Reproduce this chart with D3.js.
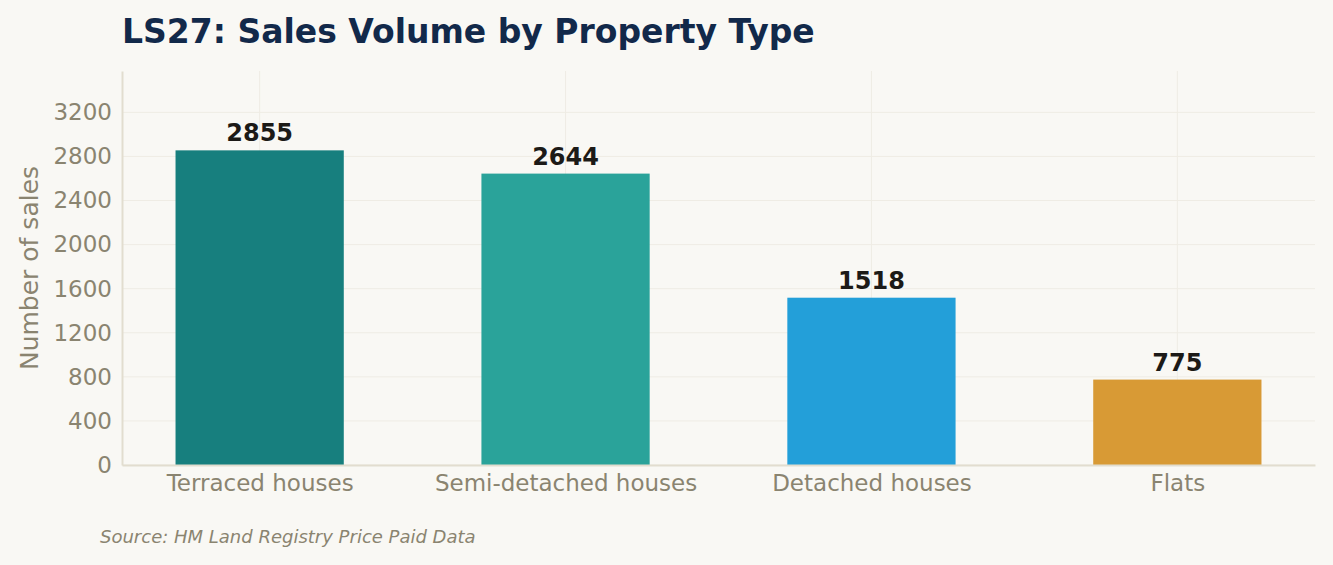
<!DOCTYPE html>
<html>
<head>
<meta charset="utf-8">
<script src="https://cdn.jsdelivr.net/npm/d3@7"></script>
<style>
  html, body { margin: 0; padding: 0; background: #f9f8f4; }
  svg { display: block; font-family: "DejaVu Sans", sans-serif; }
</style>
</head>
<body>
<div id="chart"></div>
<script>
// Dati
const categories = ["Terraced houses", "Semi-detached houses", "Detached houses", "Flats"];
const sales = [2855, 2644, 1518, 775];
const barColors = ["#177f7e", "#2aa39a", "#239fd9", "#d89a35"];
const yTicks = [0, 400, 800, 1200, 1600, 2000, 2400, 2800, 3200];

const width = 1333, height = 565;
const margin = { top: 71, right: 18, bottom: 100, left: 122 };
const innerW = width - margin.left - margin.right;
const innerH = height - margin.top - margin.bottom;

const svg = d3.select("#chart").append("svg")
    .attr("width", width)
    .attr("height", height);

svg.append("rect").attr("width", width).attr("height", height).attr("fill", "#f9f8f4");

const g = svg.append("g").attr("transform", `translate(${margin.left},${margin.top})`);

// Scala x: categorie con margine come matplotlib (-0.45 .. n-0.55)
const x = d3.scaleLinear()
    .domain([-0.45, categories.length - 0.55])
    .range([0, innerW]);
const barW = (x(1) - x(0)) * 0.55;

const y = d3.scaleLinear()
    .domain([0, 3575])
    .range([innerH, 0]);

// Griglia orizzontale
g.append("g")
    .selectAll("line")
    .data(yTicks)
    .join("line")
    .attr("x1", 0).attr("x2", innerW)
    .attr("y1", d => y(d)).attr("y2", d => y(d))
    .attr("stroke", "#efece4")
    .attr("stroke-width", 1);

// Griglia verticale
g.append("g")
    .selectAll("line")
    .data(categories)
    .join("line")
    .attr("x1", (d, i) => x(i)).attr("x2", (d, i) => x(i))
    .attr("y1", 0).attr("y2", innerH)
    .attr("stroke", "#efece4")
    .attr("stroke-width", 1);

// Barre
g.append("g")
    .selectAll("rect")
    .data(sales)
    .join("rect")
    .attr("x", (d, i) => x(i) - barW / 2)
    .attr("y", d => y(d))
    .attr("width", barW)
    .attr("height", d => innerH - y(d))
    .attr("fill", (d, i) => barColors[i]);

// Etichette valori
g.append("g")
    .selectAll("text")
    .data(sales)
    .join("text")
    .attr("x", (d, i) => x(i))
    .attr("y", d => y(d) - 9)
    .attr("text-anchor", "middle")
    .attr("font-size", 24)
    .attr("font-weight", "bold")
    .attr("fill", "#1c1a17")
    .text(d => d);

// Asse y
const yAxis = g.append("g")
    .call(d3.axisLeft(y).tickValues(yTicks).tickFormat(d3.format("d")).tickSize(0).tickPadding(10));
yAxis.select(".domain").attr("stroke", "#e2ddcf").attr("stroke-width", 2);
yAxis.selectAll("text")
    .attr("font-size", 23)
    .attr("font-family", "DejaVu Sans")
    .attr("fill", "#8a8470");

// Asse x
const xAxis = g.append("g")
    .attr("transform", `translate(0,${innerH})`)
    .call(d3.axisBottom(x).tickValues(d3.range(categories.length))
        .tickFormat(i => categories[i]).tickSize(0).tickPadding(10));
xAxis.select(".domain").attr("stroke", "#e2ddcf").attr("stroke-width", 2);
xAxis.selectAll("text")
    .attr("font-size", 23)
    .attr("font-family", "DejaVu Sans")
    .attr("fill", "#8a8470");

// Titolo asse y
svg.append("text")
    .attr("transform", `translate(38,${margin.top + innerH / 2}) rotate(-90)`)
    .attr("text-anchor", "middle")
    .attr("font-size", 25)
    .attr("fill", "#8a8470")
    .text("Number of sales");

// Titolo
svg.append("text")
    .attr("x", 122)
    .attr("y", 43)
    .attr("font-size", 33)
    .attr("font-weight", "bold")
    .attr("fill", "#12294a")
    .text("LS27: Sales Volume by Property Type");

// Fonte
svg.append("text")
    .attr("x", 100)
    .attr("y", 543)
    .attr("font-size", 18)
    .attr("font-style", "italic")
    .attr("fill", "#8a8470")
    .text("Source: HM Land Registry Price Paid Data");
</script>
</body>
</html>
